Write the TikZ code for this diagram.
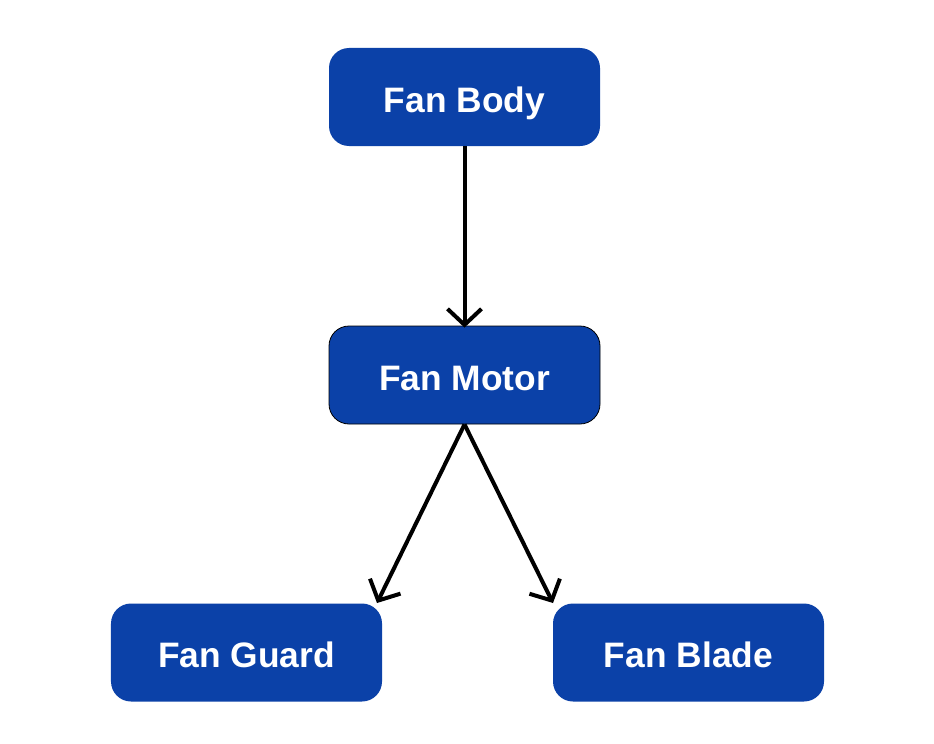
\documentclass[tikz,border=0pt]{standalone}
\usepackage{fontspec}
\setmainfont{Liberation Sans}
\usetikzlibrary{arrows.meta}
\definecolor{boxblue}{RGB}{11,65,168}
\begin{document}
\begin{tikzpicture}[x=1bp,y=-1bp,
  box/.style={fill=boxblue,rounded corners=20bp,minimum width=271bp,minimum height=98bp,
    text=white,font=\fontsize{35.5}{40}\selectfont\bfseries,inner sep=0pt,
    text height=30bp,text depth=0bp},
  conn/.style={line width=4bp,-{Straight Barb[length=16bp,width=34bp,line width=4bp]}}]
\useasboundingbox[fill=white] (0,0) rectangle (934,744);
\node[box] (body) at (464.5,97) {Fan Body};
\node[box,draw=black,line width=0.8bp] (motor) at (464.5,375) {Fan Motor};
\node[box] (guard) at (246.5,652.5) {Fan Guard};
\node[box] (blade) at (688.5,652.5) {Fan Blade};
\draw[conn] (body.south) -- ([yshift=-2bp]motor.north);
\coordinate (ml) at (377,603);
\coordinate (mr) at (553,603);
\draw[conn] (motor.south) -- (ml);
\draw[conn] (motor.south) -- (mr);
\end{tikzpicture}
\end{document}
